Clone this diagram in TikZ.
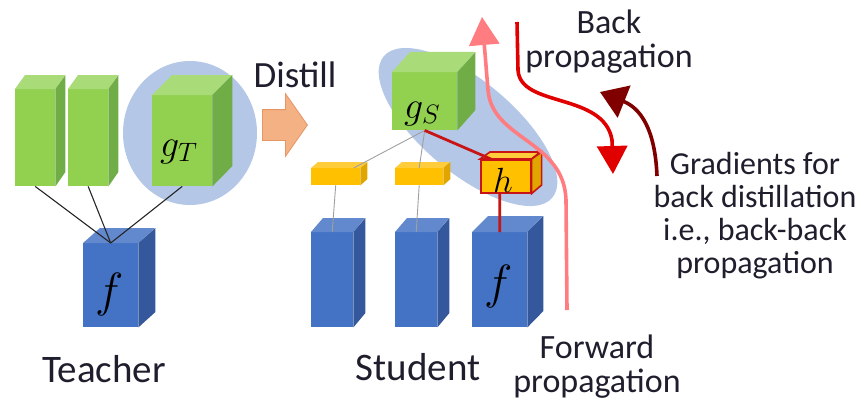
\documentclass[tikz,border=0pt]{standalone}
\usepackage{fix-cm}
\usepackage{fontspec}
\setmainfont{Carlito}
\usepackage{tikz}
\usetikzlibrary{arrows.meta, positioning, shapes.geometric, shapes.arrows, calc}
\definecolor{greenF}{RGB}{146,208,80}
\definecolor{greenT}{RGB}{169,219,120}
\definecolor{greenS}{RGB}{112,173,71}
\definecolor{blueF}{RGB}{68,114,196}
\definecolor{blueT}{RGB}{98,137,206}
\definecolor{blueS}{RGB}{52,88,155}
\definecolor{yelF}{RGB}{255,192,0}
\definecolor{yelT}{RGB}{255,205,60}
\definecolor{yelS}{RGB}{225,165,0}
\definecolor{hlblue}{RGB}{180,199,231}
\definecolor{distillF}{RGB}{244,177,131}
\definecolor{distillD}{RGB}{230,150,100}
\definecolor{fwdpink}{RGB}{255,124,128}
\definecolor{bwdred}{RGB}{224,0,0}
\definecolor{bbred}{RGB}{128,0,0}
\definecolor{lnred}{RGB}{200,20,20}
\definecolor{txt}{RGB}{30,30,45}

% cuboid: [edge style]{name}{x}{y}{w}{h}{dx}{dy}{colour set}
\newcommand{\cuboid}[9][draw=none]{%
  \node[fill=#9F, #1, minimum width=#5pt, minimum height=#6pt, inner sep=0pt, anchor=north west] (#2) at (#3,#4) {};
  \filldraw[fill=#9T, #1] (#2.north west) -- ++(#7,-#8) -- ++(#5,0) -- (#2.north east) -- cycle;
  \filldraw[fill=#9S, #1] (#2.north east) -- ++(#7,-#8) -- ++(0,#6) -- (#2.south east) -- cycle;
}

\begin{document}
\begin{tikzpicture}[x=1pt, y=-1pt,
    every node/.style={text=txt},
    bigtxt/.style={font=\fontsize{39}{44}\selectfont},
    midtxt/.style={font=\fontsize{34}{34}\selectfont, align=center},
    smalltxt/.style={font=\fontsize{32}{33}\selectfont, align=center},
    mlbl/.style={font=\fontsize{38}{38}\selectfont, text=black, inner sep=0pt, anchor=base west},
    flbl/.style={font=\fontsize{48}{48}\selectfont, text=black, inner sep=0pt, anchor=base west},
    hl/.style={ellipse, fill=hlblue, inner sep=0pt},
    tline/.style={draw=black!85, line width=1.1pt},
    gline/.style={draw=gray!75, line width=0.9pt},
    rline/.style={draw=lnred, line width=2.8pt},
    flow/.style={line width=3.6pt}]
\useasboundingbox (0,0) rectangle (866,404);

% highlights
\node[hl, minimum width=134pt, minimum height=144pt] (hlT) at (190,133) {};
\node[hl, minimum width=220pt, minimum height=92pt, rotate=-40] (hlS) at (468,127) {};

% teacher
\cuboid{t1}{15}{89}{40}{97}{10}{14}{green}
\cuboid{t2}{68}{89}{40}{97}{10}{14}{green}
\cuboid{gT}{152}{95}{60}{91}{20}{20}{green}
\cuboid{fT}{83}{243}{55}{84}{17}{15}{blue}
\node[mlbl] (gTl) at (160,156) {$g_T$};
\node[flbl] (fTl) at (95,306) {$f$};
\draw[tline] (t1.south) -- (fT.north);
\draw[tline] (t2.south) -- (fT.north);
\draw[tline] (gT.south) -- (fT.north);

% distill
\node[single arrow, fill=distillF, draw=distillD, line width=0.8pt,
      minimum height=45pt, inner xsep=0pt, inner ysep=15pt,
      single arrow head extend=16pt, single arrow tip angle=110,
      anchor=tail] (distill) at (262,125) {};
\node[font=\fontsize{37}{40}\selectfont, anchor=base] (distillL) at (295,87) {Distill};

% student
\cuboid{gS}{392}{72}{65}{58}{18}{20}{green}
\cuboid{y1}{311}{168}{49}{17}{7}{6}{yel}
\cuboid{y2}{395}{168}{48}{17}{7}{6}{yel}
\cuboid[draw=lnred, line width=1.6pt]{h}{480}{159}{50}{33}{10}{7}{yel}
\cuboid{s1}{311}{232}{42}{95}{12}{14}{blue}
\cuboid{s2}{395}{232}{42}{95}{12}{14}{blue}
\cuboid{s3}{472}{232}{55}{95}{16}{16}{blue}
\node[mlbl] (gSl) at (404,118) {$g_S$};
\node[mlbl, font=\fontsize{35}{35}\selectfont] (hl) at (493,192) {$h$};
\node[flbl] (fSl) at (484,298) {$f$};
\draw[gline] (gS.south) -- ([xshift=18]y1.north);
\draw[gline] (gS.south) -- (y2.north);
\draw[gline] (y1.south) -- (s1.north);
\draw[gline] (y2.south) -- (s2.north);
\draw[rline] (gS.south) -- ([xshift=-15]h.north);
\draw[rline] ([xshift=-6]h.south) -- (s3.north);

% propagation arrows
\coordinate (fwdS) at (567,310);
\coordinate (fwdE) at (482,17);
\coordinate (bwdS) at (517,22);
\coordinate (bwdE) at (613,174);
\coordinate (bbS) at (657,176);
\coordinate (bbE) at (600,92);
\draw[flow, fwdpink, -{Triangle[width=30pt,length=28pt]}] (fwdS) -- (566,200)
  .. controls (564,140) and (492,140) .. (488,90) -- (fwdE);
\draw[flow, bwdred, -{Triangle[width=30pt,length=28pt]}] (bwdS) -- (518,70)
  .. controls (520,108) and (604,92) .. (612,140) -- (bwdE);
\draw[flow, bbred, -{Triangle[width=34pt,length=26pt]}] (bbS)
  .. controls (655,128) and (640,108) .. (bbE);

% labels
\node[bigtxt, anchor=base] (teacher) at (104,382) {Teacher};
\node[bigtxt, anchor=base] (student) at (418,380) {Student};
\node[midtxt, anchor=base] (fwdL) at (597,392) {Forward\\propagation};
\node[midtxt, anchor=base] (bwdL) at (609,67) {Back\\propagation};
\node[smalltxt, anchor=base] (bbL) at (755,273)
  {Gradients for\\back distillation\\i.e., back-back\\propagation};
\end{tikzpicture}
\end{document}
